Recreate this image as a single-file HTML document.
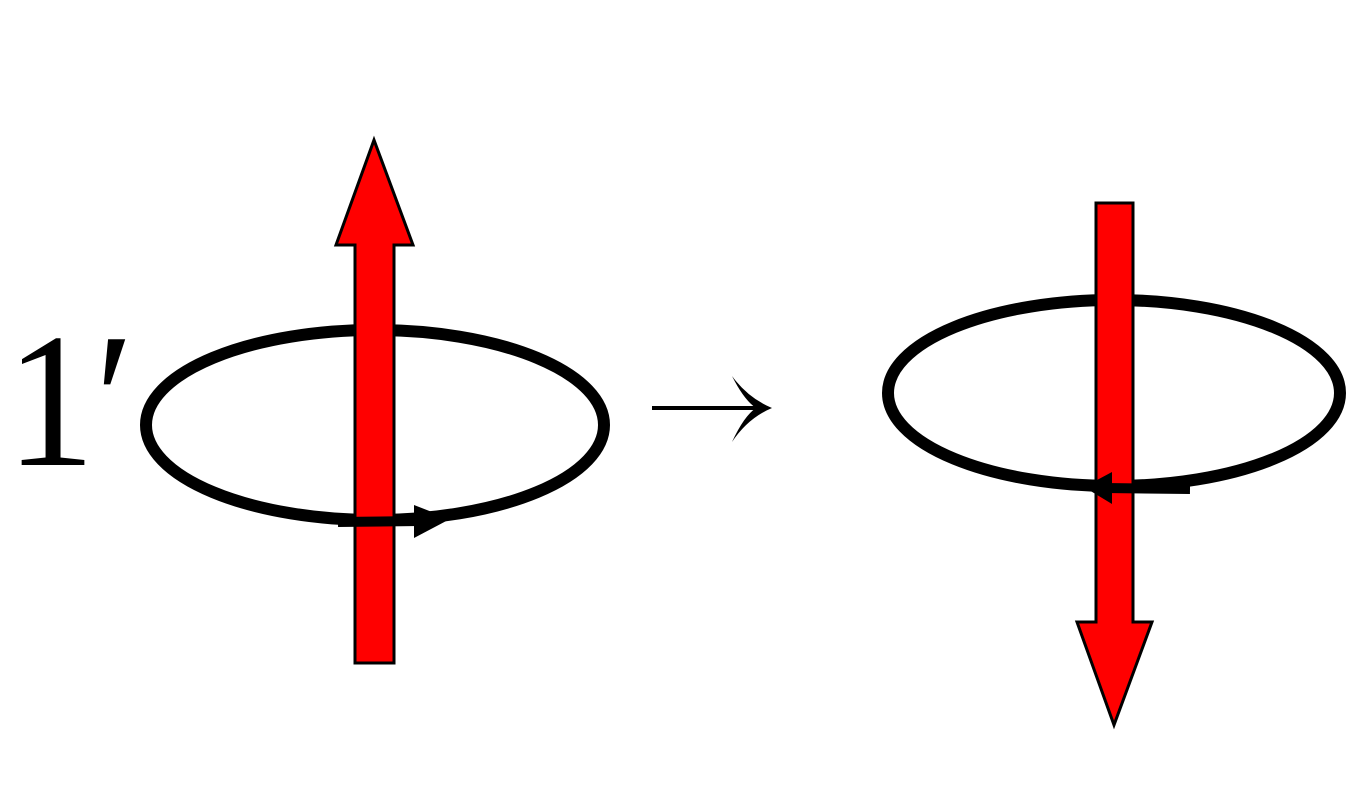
<!DOCTYPE html>
<html>
<head>
<meta charset="utf-8">
<style>
html,body{margin:0;padding:0;background:#fff;}
svg{display:block;}
</style>
</head>
<body>
<svg width="1361" height="787" viewBox="0 0 1361 787" xmlns="http://www.w3.org/2000/svg">
  <text x="6" y="465" font-family="'Liberation Serif', serif" font-size="192" textLength="128" lengthAdjust="spacingAndGlyphs" fill="#000">1′</text>

  <!-- left group -->
  <ellipse cx="375" cy="425" rx="229" ry="95" fill="none" stroke="#000" stroke-width="12"/>
  <polygon points="355,663 394,663 394,245 413,245 374,140 336,245 355,245" fill="#ff0000" stroke="#000" stroke-width="3" stroke-linejoin="miter"/>
  <g>
    <line x1="338" y1="522" x2="420" y2="521" stroke="#000" stroke-width="10"/>
    <polygon points="414,505 450,519 414,538" fill="#000"/>
  </g>

  <!-- middle arrow -->
  <g>
    <line x1="652" y1="408" x2="766" y2="408" stroke="#000" stroke-width="4"/>
    <path d="M732,376 Q748,398 772,408 Q748,418 732,442 Q744,416 756,408 Q744,400 732,376 Z" fill="#000"/>
  </g>

  <!-- right group -->
  <ellipse cx="1114" cy="393" rx="226" ry="93" fill="none" stroke="#000" stroke-width="12"/>
  <polygon points="1096,203 1133,203 1133,622 1152,622 1114,725 1077,622 1096,622" fill="#ff0000" stroke="#000" stroke-width="3"/>
  <g>
    <line x1="1190" y1="489" x2="1105" y2="488" stroke="#000" stroke-width="10"/>
    <polygon points="1112,472 1084,487 1112,504" fill="#000"/>
  </g>
</svg>
</body>
</html>
